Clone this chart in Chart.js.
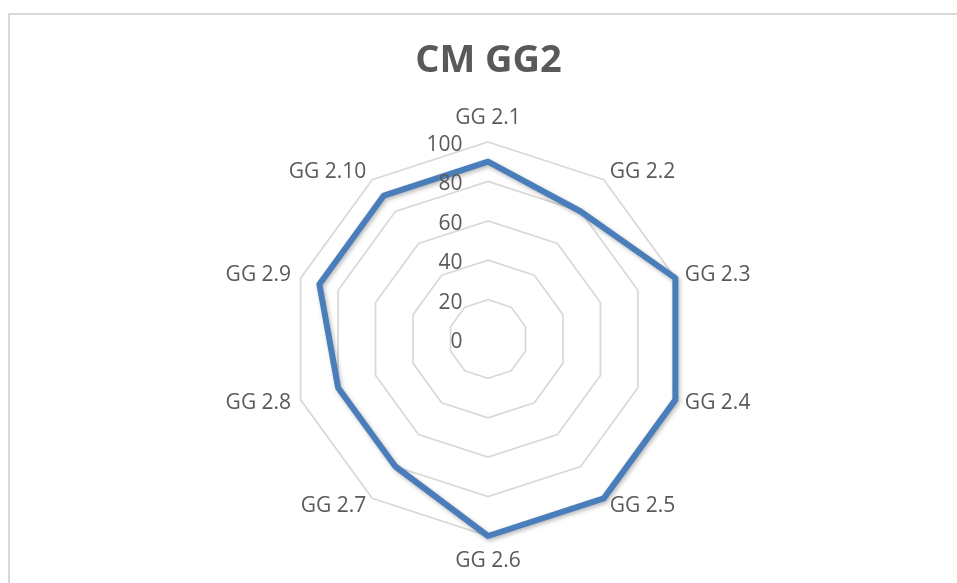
<!DOCTYPE html>
<html>
<head>
<meta charset="utf-8">
<script src="https://cdn.jsdelivr.net/npm/chart.js@4/dist/chart.umd.min.js"></script>
<style>
  html, body { margin: 0; padding: 0; background: #ffffff; width: 957px; height: 583px; overflow: hidden; }
  #frame { position: absolute; left: 8px; top: 13px; width: 1200px; height: 1000px;
           border-left: 2px solid #d9d9d9; border-top: 2px solid #d9d9d9; }
  #wrap { position: absolute; left: 0; top: 0; width: 957px; height: 583px; }
</style>
</head>
<body>
<div id="frame"></div>
<div id="wrap"><canvas id="c" width="957" height="583"></canvas></div>
<script>
const chartTitle = 'CM GG2';
const categories = ['GG 2.1', 'GG 2.2', 'GG 2.3', 'GG 2.4', 'GG 2.5', 'GG 2.6', 'GG 2.7', 'GG 2.8', 'GG 2.9', 'GG 2.10'];
const seriesName = 'CM GG2';
const seriesValues = [90, 80, 100, 100, 100, 100, 80, 80, 90, 90];
const axisMin = 0;
const axisMax = 100;
const axisStep = 20;

const textColor = '#595959';
const labelFont = '21px "Open Sans"';

const excelLabels = {
  id: 'excelLabels',
  afterDatasetsDraw(chart) {
    const s = chart.scales.r;
    const ctx = chart.ctx;
    ctx.save();
    ctx.font = labelFont;
    ctx.fillStyle = textColor;
    ctx.textAlign = 'right';
    ctx.textBaseline = 'middle';
    s.ticks.forEach(t => {
      const y = s.yCenter - s.getDistanceFromCenterForValue(t.value) + 3;
      ctx.fillText(String(t.value), s.xCenter - 25.5, y);
    });
    ctx.restore();
  },
  afterDraw(chart) {
    const s = chart.scales.r;
    const ctx = chart.ctx;
    const n = categories.length;
    ctx.save();
    ctx.font = labelFont;
    ctx.fillStyle = textColor;
    ctx.textBaseline = 'middle';
    categories.forEach((lab, i) => {
      const ang = i * 360 / n;
      const p = s.getPointPosition(i, s.drawingArea + 10);
      let x = p.x, y = p.y;
      if (ang === 0) { ctx.textAlign = 'center'; y -= 14; }
      else if (ang === 180) { ctx.textAlign = 'center'; y += 15; }
      else if (ang < 180) { ctx.textAlign = 'left'; }
      else { ctx.textAlign = 'right'; }
      ctx.fillText(lab, x, y);
    });
    ctx.restore();
  }
};

const lineShadow = {
  id: 'lineShadow',
  beforeDatasetDraw(chart) {
    const ctx = chart.ctx;
    ctx.save();
    ctx.shadowColor = 'rgba(0,0,0,0.28)';
    ctx.shadowBlur = 4;
    ctx.shadowOffsetX = 1.5;
    ctx.shadowOffsetY = 2;
  },
  afterDatasetDraw(chart) {
    chart.ctx.restore();
  }
};

new Chart(document.getElementById('c').getContext('2d'), {
  type: 'radar',
  data: {
    labels: categories,
    datasets: [{
      label: seriesName,
      data: seriesValues,
      borderColor: '#4A7EBB',
      backgroundColor: 'rgba(0,0,0,0)',
      borderWidth: 6,
      borderJoinStyle: 'round',
      pointRadius: 0,
      pointHoverRadius: 0,
      fill: false,
      tension: 0,
      clip: false
    }]
  },
  options: {
    responsive: false,
    animation: false,
    devicePixelRatio: 1,
    layout: { padding: { left: 200, right: 180, top: 0, bottom: 46 } },
    plugins: {
      legend: { display: false },
      tooltip: { enabled: false },
      title: {
        display: true,
        text: chartTitle,
        color: textColor,
        font: { family: '"Open Sans"', size: 38, weight: 'bold', lineHeight: 1.2 },
        padding: { top: 38, bottom: 58 }
      }
    },
    scales: {
      r: {
        min: axisMin,
        max: axisMax,
        ticks: { stepSize: axisStep, display: false },
        pointLabels: { display: false },
        angleLines: { display: false },
        grid: { color: '#d9d9d9', lineWidth: 1.75 }
      }
    }
  },
  plugins: [lineShadow, excelLabels]
});
</script>
</body>
</html>
